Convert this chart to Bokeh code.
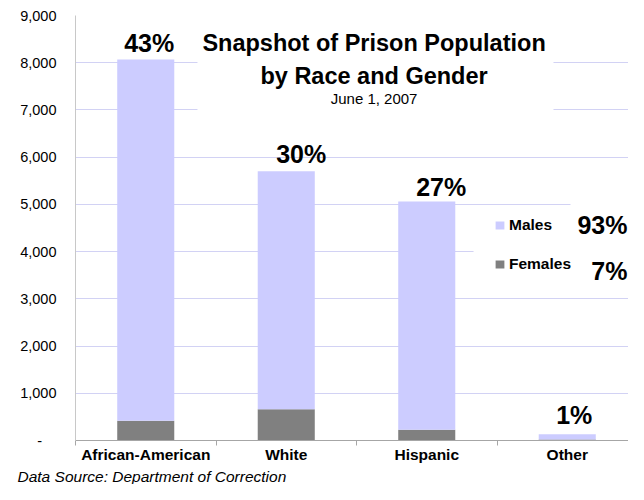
from bokeh.plotting import figure
from bokeh.models import (ColumnDataSource, FixedTicker, NumeralTickFormatter, Label,
                          LabelSet, Legend, LegendItem, BoxAnnotation, Range1d, Title)
from bokeh.embed import file_html
from bokeh.resources import INLINE
from bokeh.core.properties import value

# ---------------- data ----------------
categories = ["African-American", "White", "Hispanic", "Other"]
males = [7650, 5040, 4830, 110]
females = [420, 660, 230, 20]
race_pct = ["43%", "30%", "27%", "1%"]
gender_labels = ["Males", "Females"]
gender_pct = ["93%", "7%"]
y_ticks = [0, 1000, 2000, 3000, 4000, 5000, 6000, 7000, 8000, 9000]
title_lines = ["Snapshot of Prison Population", "by Race and Gender"]
subtitle = "June 1, 2007"
source_note = "Data Source: Department of Correction"

# ---------------- style ----------------
FONT = "Liberation Sans"
MALE_COLOR = "#ccccff"
FEMALE_COLOR = "#808080"
GRID_COLOR = "#d2d2f4"

xs = [i + 1 for i in range(len(categories))]
bounds = [i + 0.5 for i in range(len(categories) + 1)]
totals = [m + f for m, f in zip(males, females)]
pct_dx = [3.5, 15, 14.5, 7]
pct_dy = [7, 8, 6, 10]

src = ColumnDataSource(dict(x=xs, male=males, female=females, total=totals,
                            pct=race_pct, dx=pct_dx, dy=pct_dy))

# frame: left 75px, top 15px, bottom 440px; 140.5px per category
X_END = 0.5 + (628 - 75) / 140.5
p = figure(width=628, height=484, output_backend="svg", toolbar_location=None,
           title=None,
           x_range=Range1d(0.5, X_END), y_range=Range1d(0, 9000),
           min_border_left=75, min_border_right=0, min_border_top=15,
           min_border_bottom=44, background_fill_color="white",
           border_fill_color="white", outline_line_color=None)

rs = p.vbar_stack(["female", "male"], x="x", width=0.406, source=src,
                  color=[FEMALE_COLOR, MALE_COLOR], line_color=None)
female_r, male_r = rs

# axes
p.xaxis.ticker = FixedTicker(ticks=xs, minor_ticks=bounds)
p.xaxis.major_label_overrides = {x: c for x, c in zip(xs, categories)}
p.xaxis.axis_line_color = "#a6a6a6"
p.xaxis.major_tick_line_color = None
p.xaxis.major_tick_out = 0
p.xaxis.major_tick_in = 0
p.xaxis.minor_tick_line_color = "#a6a6a6"
p.xaxis.minor_tick_out = 5
p.xaxis.minor_tick_in = 0
p.xaxis.major_label_text_font = FONT
p.xaxis.major_label_text_font_size = "15.5px"
p.xaxis.major_label_text_font_style = "bold"
p.xaxis.major_label_text_color = "black"
p.xaxis.major_label_standoff = 0

p.yaxis.ticker = FixedTicker(ticks=y_ticks, minor_ticks=[])
p.yaxis.formatter = NumeralTickFormatter(format="0,0")
# accounting-style zero: a dash, padded on the right
p.yaxis.major_label_overrides = {0: "-\u2002\u2002\u200b"}
p.yaxis.axis_line_color = "#c8c8c8"
p.yaxis.major_tick_line_color = None
p.yaxis.major_tick_out = 0
p.yaxis.major_tick_in = 0
p.yaxis.minor_tick_line_color = None
p.yaxis.major_label_text_font = FONT
p.yaxis.major_label_text_font_size = "14.5px"
p.yaxis.major_label_text_color = "black"
p.yaxis.major_label_standoff = 19

p.xgrid.visible = False
p.ygrid.grid_line_color = GRID_COLOR
p.ygrid.grid_line_width = 1

# white panels behind title and legend (hide gridlines like the original)
for l, r, t, b in [(1.368, 3.902, 9300, 6565),
                   (3.333, 4.6, 4955, 3113),
                   (4.023, 4.6, 5082, 4900)]:
    p.add_layout(BoxAnnotation(left=l, right=r, top=t, bottom=b,
                               fill_color="white", fill_alpha=1, line_color=None))

# legend
legend = Legend(items=[LegendItem(label=gender_labels[0], renderers=[male_r]),
                       LegendItem(label=gender_labels[1], renderers=[female_r])],
                location=(419, 166), padding=0, margin=0, spacing=19,
                glyph_width=11, glyph_height=10, label_height=20,
                label_standoff=4, label_text_font=FONT,
                label_text_font_size="15.5px", label_text_font_style="bold",
                label_text_color="black", border_line_color=None,
                background_fill_alpha=0)
p.add_layout(legend)

# title
p.add_layout(Label(x=2.625, y=8428, text=title_lines[0], text_align="center",
                   text_baseline="alphabetic", text_font=FONT,
                   text_font_size="23.5px", text_font_style="bold",
                   text_color="black"))
p.add_layout(Label(x=2.625, y=7729, text=title_lines[1], text_align="center",
                   text_baseline="alphabetic", text_font=FONT,
                   text_font_size="23.5px", text_font_style="bold",
                   text_color="black"))
p.add_layout(Label(x=2.625, y=7242, text=subtitle, text_align="center",
                   text_baseline="alphabetic", text_font=FONT,
                   text_font_size="15px", text_color="black"))

# race percentage labels
p.add_layout(LabelSet(x="x", y="total", text="pct", x_offset="dx", y_offset="dy",
                      source=src, text_align="center", text_baseline="alphabetic",
                      text_font=value(FONT), text_font_size=value("25px"),
                      text_font_style="bold", text_color="black"))

# gender percentages
p.add_layout(Label(x=0.5 + (627 - 75) / 140.5, y=4574, text=gender_pct[0],
                   text_align="right", text_baseline="alphabetic", text_font=FONT,
                   text_font_size="25px", text_font_style="bold", text_color="black"))
p.add_layout(Label(x=0.5 + (627 - 75) / 140.5, y=3600, text=gender_pct[1],
                   text_align="right", text_baseline="alphabetic", text_font=FONT,
                   text_font_size="25px", text_font_style="bold", text_color="black"))

# source note below the axis
p.add_layout(Title(text=source_note, align="left", offset=-58, standoff=0,
                   text_font=FONT, text_font_size="15.5px",
                   text_font_style="italic", text_color="black"), "below")

open("out.html", "w").write(file_html(p, INLINE))
